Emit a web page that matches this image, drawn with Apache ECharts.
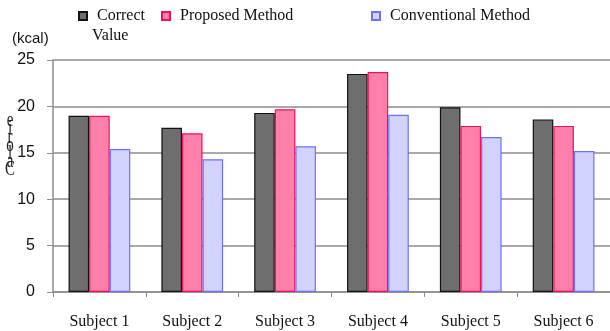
<!DOCTYPE html>
<html>
<head>
<meta charset="utf-8">
<script src="https://cdn.jsdelivr.net/npm/echarts@6/dist/echarts.min.js"></script>
<style>
  html, body { margin: 0; padding: 0; background: #fff; }
  #chart { width: 610px; height: 331px; }
</style>
</head>
<body>
<div id="chart"></div>
<script>
// Energy estimates per subject (kcal)
const subjects = ['Subject 1', 'Subject 2', 'Subject 3', 'Subject 4', 'Subject 5', 'Subject 6'];
const correctValue = [19.0, 17.7, 19.3, 23.5, 19.9, 18.6];
const proposedMethod = [19.0, 17.1, 19.7, 23.7, 17.9, 17.9];
const conventionalMethod = [15.4, 14.3, 15.7, 19.1, 16.7, 15.2];
const yTicks = [0, 5, 10, 15, 20, 25];

const serif = '"Liberation Serif", "Times New Roman", serif';
const sans = '"Liberation Sans", Arial, sans-serif';

const chart = echarts.init(document.getElementById('chart'), null, { renderer: 'canvas' });

function barSeries(name, data, fill, border) {
  return {
    name: name,
    type: 'bar',
    data: data,
    barGap: '0%',
    barCategoryGap: '33.5%',
    itemStyle: { color: fill, borderColor: border, borderWidth: 1.2 },
    emphasis: { disabled: true }
  };
}

function legendAt(left, name) {
  return {
    left: left,
    top: 3,
    data: [name],
    itemWidth: 8,
    itemHeight: 8,
    itemGap: 6,
    icon: 'rect',
    selectedMode: false,
    textStyle: { fontFamily: serif, fontSize: 16, color: '#111', padding: [0, 0, 0, 5] }
  };
}

chart.setOption({
  animation: false,
  backgroundColor: '#fff',
  grid: { left: 53, right: -3, top: 60, bottom: 39 },
  legend: [
    Object.assign(legendAt(73, 'Correct Value'), { formatter: () => 'Correct' }),
    legendAt(156, 'Proposed Method'),
    legendAt(366, 'Conventional Method')
  ],
  xAxis: {
    type: 'category',
    data: subjects,
    axisLine: { lineStyle: { color: '#8c8c8c', width: 1.5 } },
    axisTick: { show: true, length: 5, lineStyle: { color: '#8c8c8c', width: 1 } },
    axisLabel: { fontFamily: serif, fontSize: 16, color: '#111', margin: 22 }
  },
  yAxis: {
    type: 'value',
    min: yTicks[0],
    max: yTicks[yTicks.length - 1],
    interval: 5,
    axisLine: { show: true, lineStyle: { color: '#8c8c8c', width: 1.5 } },
    axisTick: { show: true, length: 6, lineStyle: { color: '#8c8c8c', width: 1 } },
    axisLabel: { fontFamily: sans, fontSize: 16, color: '#111', margin: 18 },
    splitLine: { lineStyle: { color: '#8c8c8c', width: 1.5 } }
  },
  graphic: [
    { type: 'text', left: 12, top: 31, style: { text: '(kcal)', font: '15px ' + sans, fill: '#111' } },
    { type: 'text', left: 92, top: 28, style: { text: 'Value', font: '16px ' + serif, fill: '#111' } },
    { type: 'text', x: 10, y: 117, scaleY: 1.35,
      style: { text: 'e\ni\nr\no\nl\na\nC', font: '15px ' + serif, fill: '#222', lineHeight: 6, align: 'center' } }
  ],
  series: [
    barSeries('Correct Value', correctValue, '#6e6e6e', '#111111'),
    barSeries('Proposed Method', proposedMethod, '#ff7fab', '#f0105f'),
    barSeries('Conventional Method', conventionalMethod, '#d2d2ff', '#6f6fff')
  ]
});
</script>
</body>
</html>
